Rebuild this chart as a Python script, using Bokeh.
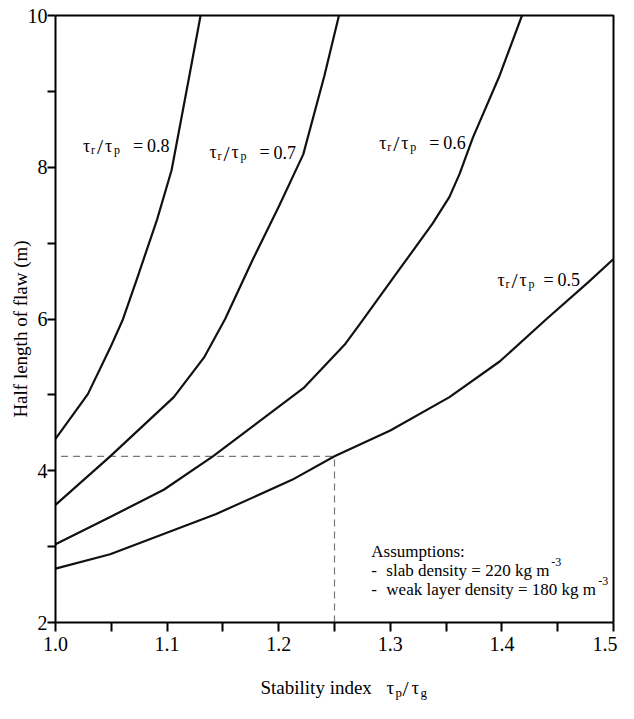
import math
from bokeh.plotting import figure
from bokeh.models import Label, FixedTicker, NumeralTickFormatter, Range1d
from bokeh.embed import file_html
from bokeh.resources import INLINE

# ---- data ----
x_08 = [1.000, 1.029, 1.049, 1.060, 1.073, 1.091, 1.104, 1.109, 1.120, 1.130]
y_08 = [4.42, 5.01, 5.62, 5.98, 6.53, 7.31, 7.96, 8.35, 9.21, 10.0]

x_07 = [1.000, 1.049, 1.106, 1.133, 1.152, 1.177, 1.200, 1.222, 1.241, 1.254]
y_07 = [3.55, 4.19, 4.97, 5.49, 6.00, 6.79, 7.48, 8.17, 9.21, 10.0]

x_06 = [1.000, 1.049, 1.097, 1.141, 1.223, 1.259, 1.274, 1.306, 1.338, 1.353, 1.362, 1.374, 1.398, 1.418]
y_06 = [3.03, 3.39, 3.75, 4.19, 5.10, 5.66, 5.96, 6.61, 7.26, 7.61, 7.91, 8.39, 9.21, 10.0]

x_05 = [1.000, 1.049, 1.144, 1.212, 1.250, 1.300, 1.353, 1.398, 1.440, 1.477, 1.500]
y_05 = [2.71, 2.90, 3.43, 3.88, 4.19, 4.53, 4.97, 5.44, 6.00, 6.48, 6.79]

ratio_labels = ["0.8", "0.7", "0.6", "0.5"]
label_x = [1.0247, 1.138, 1.290, 1.396]
label_y = [8.286, 8.195, 8.325, 6.52]

dash_x = 1.25
dash_y = 4.19

x_ticks = [1.0, 1.1, 1.2, 1.3, 1.4]
x_minor = [1.05, 1.15, 1.25, 1.35, 1.45, 1.5]
y_ticks = [2, 4, 6, 8, 10]
y_minor = [3, 5, 7, 9]

X0, X1, Y0, Y1 = 1.0, 1.5, 2.0, 10.0

FONT = "Liberation Serif"

# ---- layout (pixels) ----
W, H = 618, 703
FL, FR, FT, FB = 55, 613, 15, 622   # where the data box sits on the canvas
xpp = (X1 - X0) / (FR - FL)
ypp = (Y1 - Y0) / (FB - FT)
x_range = Range1d(X0 - FL * xpp, X1 + (W - FR) * xpp)
y_range = Range1d(Y0 - (H - FB) * ypp, Y1 + FT * ypp)

p = figure(width=W, height=H, output_backend="svg", toolbar_location=None,
           x_range=x_range, y_range=y_range,
           min_border=0, min_border_left=0, min_border_right=0,
           min_border_top=0, min_border_bottom=0)
p.background_fill_color = "white"
p.border_fill_color = "white"
p.outline_line_color = None
p.xgrid.visible = False
p.ygrid.visible = False

# axes fixed at the data box edges
p.xaxis.fixed_location = Y0
p.xaxis.bounds = (X0, X1)
p.yaxis.fixed_location = X0
p.yaxis.bounds = (Y0, Y1)

p.xaxis.ticker = FixedTicker(ticks=x_ticks, minor_ticks=x_minor)
p.xaxis.formatter = NumeralTickFormatter(format="0.0")
p.xaxis.major_tick_in = 0
p.xaxis.major_tick_out = 9
p.xaxis.minor_tick_in = 0
p.xaxis.minor_tick_out = 9
p.xaxis.major_label_standoff = 5

p.yaxis.ticker = FixedTicker(ticks=y_ticks, minor_ticks=y_minor)
p.yaxis.formatter = NumeralTickFormatter(format="0")
p.yaxis.major_tick_in = 0
p.yaxis.major_tick_out = 8
p.yaxis.minor_tick_in = 0
p.yaxis.minor_tick_out = 8
p.yaxis.major_label_standoff = 0

for ax in (p.xaxis, p.yaxis):
    ax.axis_line_width = 2
    ax.axis_line_color = "black"
    ax.major_tick_line_width = 2
    ax.minor_tick_line_width = 2
    ax.major_tick_line_color = "black"
    ax.minor_tick_line_color = "black"
    ax.major_label_text_font = FONT
    ax.major_label_text_font_size = "20px"
    ax.major_label_text_color = "black"

# top and right border of the box
p.line([X0, X1, X1], [Y1, Y1, Y0], line_color="black", line_width=2)

# dashed guide lines
p.line([1.005, dash_x], [dash_y, dash_y], line_color="#777777", line_width=1.2, line_dash="7 5")
p.line([dash_x, dash_x], [Y0, dash_y], line_color="#777777", line_width=1.2, line_dash="7 5")

# curves
for xs, ys in [(x_08, y_08), (x_07, y_07), (x_06, y_06), (x_05, y_05)]:
    p.line(xs, ys, line_color="#111111", line_width=2.2, line_join="round")


def piece(x, y, text, dx, dy, size, baseline="alphabetic", align="left", angle=0):
    p.add_layout(Label(x=x, y=y, x_offset=dx, y_offset=dy, text=text,
                       text_font=FONT, text_font_size=f"{size}px", text_color="black",
                       text_baseline=baseline, text_align=align, angle=angle))


# curve labels  τr/τp = value
for lab, lx, ly in zip(ratio_labels, label_x, label_y):
    eq_dx, val_dx = (50, 64) if lab != "0.5" else (46, 60)
    piece(lx, ly, "τ", 0, 0, 18)
    piece(lx, ly, "r", 8, -4, 12)
    piece(lx, ly, "/", 14, -1, 22)
    piece(lx, ly, "τ", 22, 0, 18)
    piece(lx, ly, "p", 31, -4, 12)
    piece(lx, ly, "=", eq_dx, 0, 18)
    piece(lx, ly, lab, val_dx, 0, 18)

# last x tick label, kept inside the canvas
piece(X1, Y0, "1.5", 4, -14, 20, baseline="top", align="right")

# x axis label: Stability index τp/τg
piece(X0, Y0, "Stability index", 205, -65, 19)
piece(X0, Y0, "τ", 331, -65, 19)
piece(X0, Y0, "p", 340, -70, 13)
piece(X0, Y0, "/", 347, -66, 22)
piece(X0, Y0, "τ", 356, -65, 19)
piece(X0, Y0, "g", 365, -70, 13)

# y axis label
piece(X0, 5.9, "Half length of flaw  (m)", -35, 0, 19, baseline="middle", align="center",
      angle=math.pi / 2)

# assumptions block
ax0, ay = 1.283, [2.935, 2.688, 2.44]
piece(ax0, ay[0], "Assumptions:", 0, 0, 17)
piece(ax0, ay[1], "-", 0, 0, 17)
piece(ax0, ay[1], "slab density = 220 kg m", 15, 0, 17)
piece(ax0, ay[1], "-3", 180, 8, 12)
piece(ax0, ay[2], "-", 0, 0, 17)
piece(ax0, ay[2], "weak layer density = 180 kg m", 15, 0, 17)
piece(ax0, ay[2], "-3", 227, 8, 12)

open("out.html", "w").write(file_html(p, INLINE))
